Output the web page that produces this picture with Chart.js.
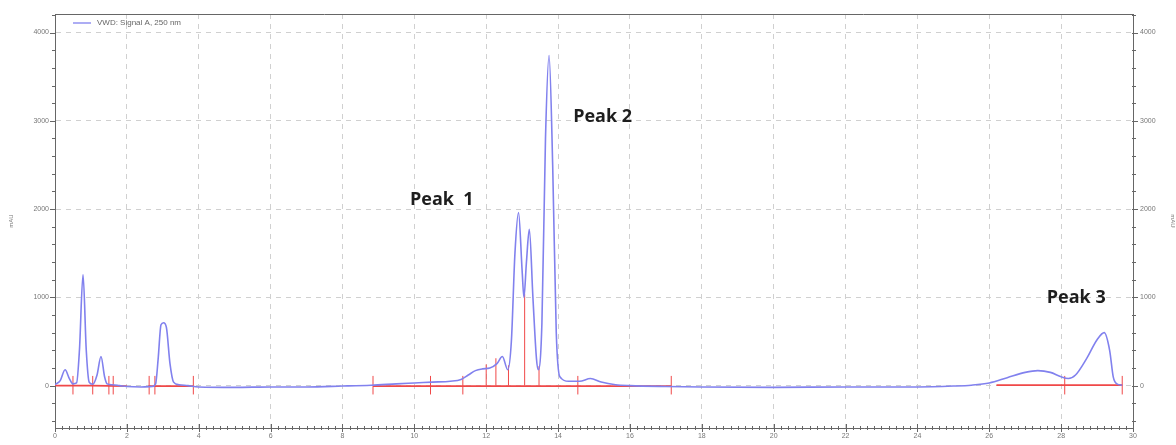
<!DOCTYPE html>
<html>
<head>
<meta charset="utf-8">
<script src="https://cdn.jsdelivr.net/npm/chart.js@4"></script>
<style>
html, body { margin: 0; padding: 0; background: #fff; }
</style>
</head>
<body>
<canvas id="chromChart" width="1176" height="445"></canvas>
<script>
// VWD signal trace (time in min, response in mAU)
const signalTimes = [
    0.0, 0.15, 0.28, 0.4, 0.5, 0.6, 0.68, 0.78, 0.87, 0.95,
    1.05, 1.17, 1.28, 1.38, 1.45, 1.6, 1.8, 2.0, 2.4, 2.7,
    2.8, 2.87, 2.95, 3.02, 3.1, 3.2, 3.3, 3.45, 3.7, 4.0,
    5.0, 6.0, 7.0, 8.0, 8.8, 9.5, 10.0, 10.5, 11.0, 11.3,
    11.5, 11.7, 11.9, 12.1, 12.3, 12.45, 12.6, 12.7, 12.8, 12.9,
    13.0, 13.05, 13.12, 13.2, 13.3, 13.4, 13.45, 13.55, 13.65, 13.75,
    13.85, 13.95, 14.05, 14.3, 14.6, 14.9, 15.2, 15.6, 16.0, 17.0,
    18.0, 20.0, 22.0, 24.0, 25.0, 25.5, 26.0, 26.5, 27.0, 27.35,
    27.7, 28.0, 28.2, 28.4, 28.7, 29.0, 29.2, 29.35, 29.45, 29.55,
    29.7
];
const signalValues = [
    10, 60, 180, 80, 20, 30, 400, 1257, 400, 40,
    15, 120, 330, 100, 20, 10, 0, -10, -15, -10,
    20, 300, 690, 713, 660, 250, 40, 10, 0, -15,
    -20, -15, -15, -5, 5, 20, 30, 40, 50, 70,
    120, 170, 190, 200, 250, 330, 180, 500, 1500, 1960,
    1300, 1000, 1400, 1770, 1000, 300, 180, 700, 2800, 3740,
    2500, 600, 100, 50, 50, 80, 40, 10, 0, -10,
    -15, -20, -15, -15, -5, 5, 30, 90, 150, 170,
    150, 100, 80, 120, 300, 520, 600, 400, 100, 20,
    5
];

// integration baseline segments (null breaks the line)
const baseTimes = [0, 1.0, 2.0, 2.0, 2.6, 3.85, 3.85, 8.85, 12.0, 14.5, 17.15, 17.15, 26.2, 28.1, 29.7];
const baseValues = [0, 0, -5, null, -5, -5, null, -5, -5, -5, -5, null, 5, 5, 5];

// integration event marks on the baseline
const markTimes = [0.5, 1.05, 1.5, 1.62, 2.62, 2.78, 3.85, 8.85, 10.45, 11.35, 14.55, 17.15, 28.1, 29.7];
const markLow = -100;
const markHigh = 110;

// drop lines between merged peaks
const dropTimes = [12.0, 12.27, 12.62, 13.07, 13.47];
const dropTops = [200, 270, 190, 1000, 180];

// axes
const xTicks = [0, 2, 4, 6, 8, 10, 12, 14, 16, 18, 20, 22, 24, 26, 28, 30];
const yTicks = [0, 1000, 2000, 3000, 4000];
const seriesName = "VWD: Signal A, 250 nm";

// peak annotations
const peakNames = ["Peak  1", "Peak 2", "Peak 3"];
const peakTimes = [9.88, 14.42, 27.6];
const peakLevels = [2106, 3046, 996];

const signalPoints = signalTimes.map((t, i) => ({ x: t, y: signalValues[i] }));
const basePoints = baseTimes.map((t, i) => ({ x: t, y: baseValues[i] }));

const eventPoints = [];
markTimes.forEach(t => {
    eventPoints.push({ x: t, y: markLow }, { x: t, y: markHigh }, { x: t, y: null });
});
dropTimes.forEach((t, i) => {
    eventPoints.push({ x: t, y: 0 }, { x: t, y: dropTops[i] + 40 }, { x: t, y: null });
});

const axisColor = "#666";
const blue = "#8181ee";
const red = "#f04848";

// minor ticks, frame, legend and peak labels
const decorPlugin = {
    id: "decor",
    afterDraw(chart) {
        const { ctx, chartArea: a } = chart;
        const xs = chart.scales.x;
        const ys = chart.scales.y;
        ctx.save();
        ctx.strokeStyle = axisColor;
        ctx.lineWidth = 1;

        // top frame
        ctx.beginPath();
        ctx.moveTo(a.left, a.top + 0.5);
        ctx.lineTo(a.right, a.top + 0.5);
        ctx.stroke();

        // x ticks
        ctx.beginPath();
        for (let i = 0; i <= 150; i++) {
            const px = Math.round(xs.getPixelForValue(i * 0.2)) + 0.5;
            const len = i % 10 === 0 ? 4 : 2;
            ctx.moveTo(px, a.bottom - len);
            ctx.lineTo(px, a.bottom + len);
        }
        // y ticks, both sides
        for (let v = -400; v <= 4200; v += 200) {
            const py = Math.round(ys.getPixelForValue(v)) + 0.5;
            const len = v % 1000 === 0 ? 5 : 3;
            ctx.moveTo(a.left - len, py);
            ctx.lineTo(a.left + 1, py);
            ctx.moveTo(a.right - 1, py);
            ctx.lineTo(a.right + len, py);
        }
        ctx.stroke();

        // legend
        ctx.strokeStyle = blue;
        ctx.lineWidth = 1.3;
        ctx.beginPath();
        ctx.moveTo(a.left + 18, a.top + 9);
        ctx.lineTo(a.left + 36, a.top + 9);
        ctx.stroke();
        ctx.fillStyle = "#666";
        ctx.font = "8px Arial";
        ctx.textBaseline = "middle";
        ctx.fillText(seriesName, a.left + 42, a.top + 9);

        // peak labels
        ctx.fillStyle = "#1e1e1e";
        ctx.font = "bold 18px 'Open Sans'";
        peakNames.forEach((name, i) => {
            ctx.fillText(name, xs.getPixelForValue(peakTimes[i]), ys.getPixelForValue(peakLevels[i]));
        });
        ctx.restore();
    }
};

const yTickCallback = v => v;

new Chart(document.getElementById("chromChart"), {
    type: "line",
    data: {
        datasets: [
            {
                label: seriesName,
                data: signalPoints,
                borderColor: blue,
                borderWidth: 1.6,
                pointRadius: 0,
                cubicInterpolationMode: "monotone",
                fill: false
            },
            {
                label: "Baseline",
                data: basePoints,
                borderColor: red,
                borderWidth: 1.8,
                pointRadius: 0,
                spanGaps: false,
                fill: false
            },
            {
                label: "Events",
                data: eventPoints,
                borderColor: red,
                borderWidth: 1,
                pointRadius: 0,
                spanGaps: false,
                fill: false
            }
        ]
    },
    options: {
        responsive: false,
        animation: false,
        layout: { padding: { top: 14, right: 0, left: 0, bottom: 0 } },
        plugins: {
            legend: { display: false },
            tooltip: { enabled: false }
        },
        scales: {
            x: {
                type: "linear",
                min: 0,
                max: 30,
                afterBuildTicks: s => { s.ticks = xTicks.map(v => ({ value: v })); },
                afterFit: s => { s.height = 17; },
                ticks: { color: "#777", font: { size: 7, family: "Arial" }, padding: 4, maxRotation: 0 },
                grid: { color: "#d0d0d0", drawTicks: false },
                border: { display: true, color: axisColor, width: 1, dash: [5, 5] }
            },
            y: {
                position: "left",
                min: -480,
                max: 4210,
                afterBuildTicks: s => { s.ticks = yTicks.map(v => ({ value: v })); },
                afterFit: s => { s.width = 55; },
                ticks: { color: "#777", font: { size: 7, family: "Arial" }, padding: 6, callback: yTickCallback },
                grid: { color: "#d0d0d0", drawTicks: false },
                border: { display: true, color: axisColor, width: 1, dash: [5, 5] },
                title: { display: true, text: "mAU", color: "#777", font: { size: 6, family: "Arial" }, padding: { top: 8, bottom: 0 } }
            },
            y2: {
                position: "right",
                min: -480,
                max: 4210,
                afterBuildTicks: s => { s.ticks = yTicks.map(v => ({ value: v })); },
                afterFit: s => { s.width = 43; },
                ticks: { color: "#777", font: { size: 7, family: "Arial" }, padding: 7, callback: yTickCallback },
                grid: { display: false, drawTicks: false },
                border: { display: true, color: axisColor, width: 1 },
                title: { display: true, text: "mAU", color: "#777", font: { size: 6, family: "Arial" }, padding: { top: 0, bottom: 2 } }
            }
        }
    },
    plugins: [decorPlugin]
});
</script>
</body>
</html>
